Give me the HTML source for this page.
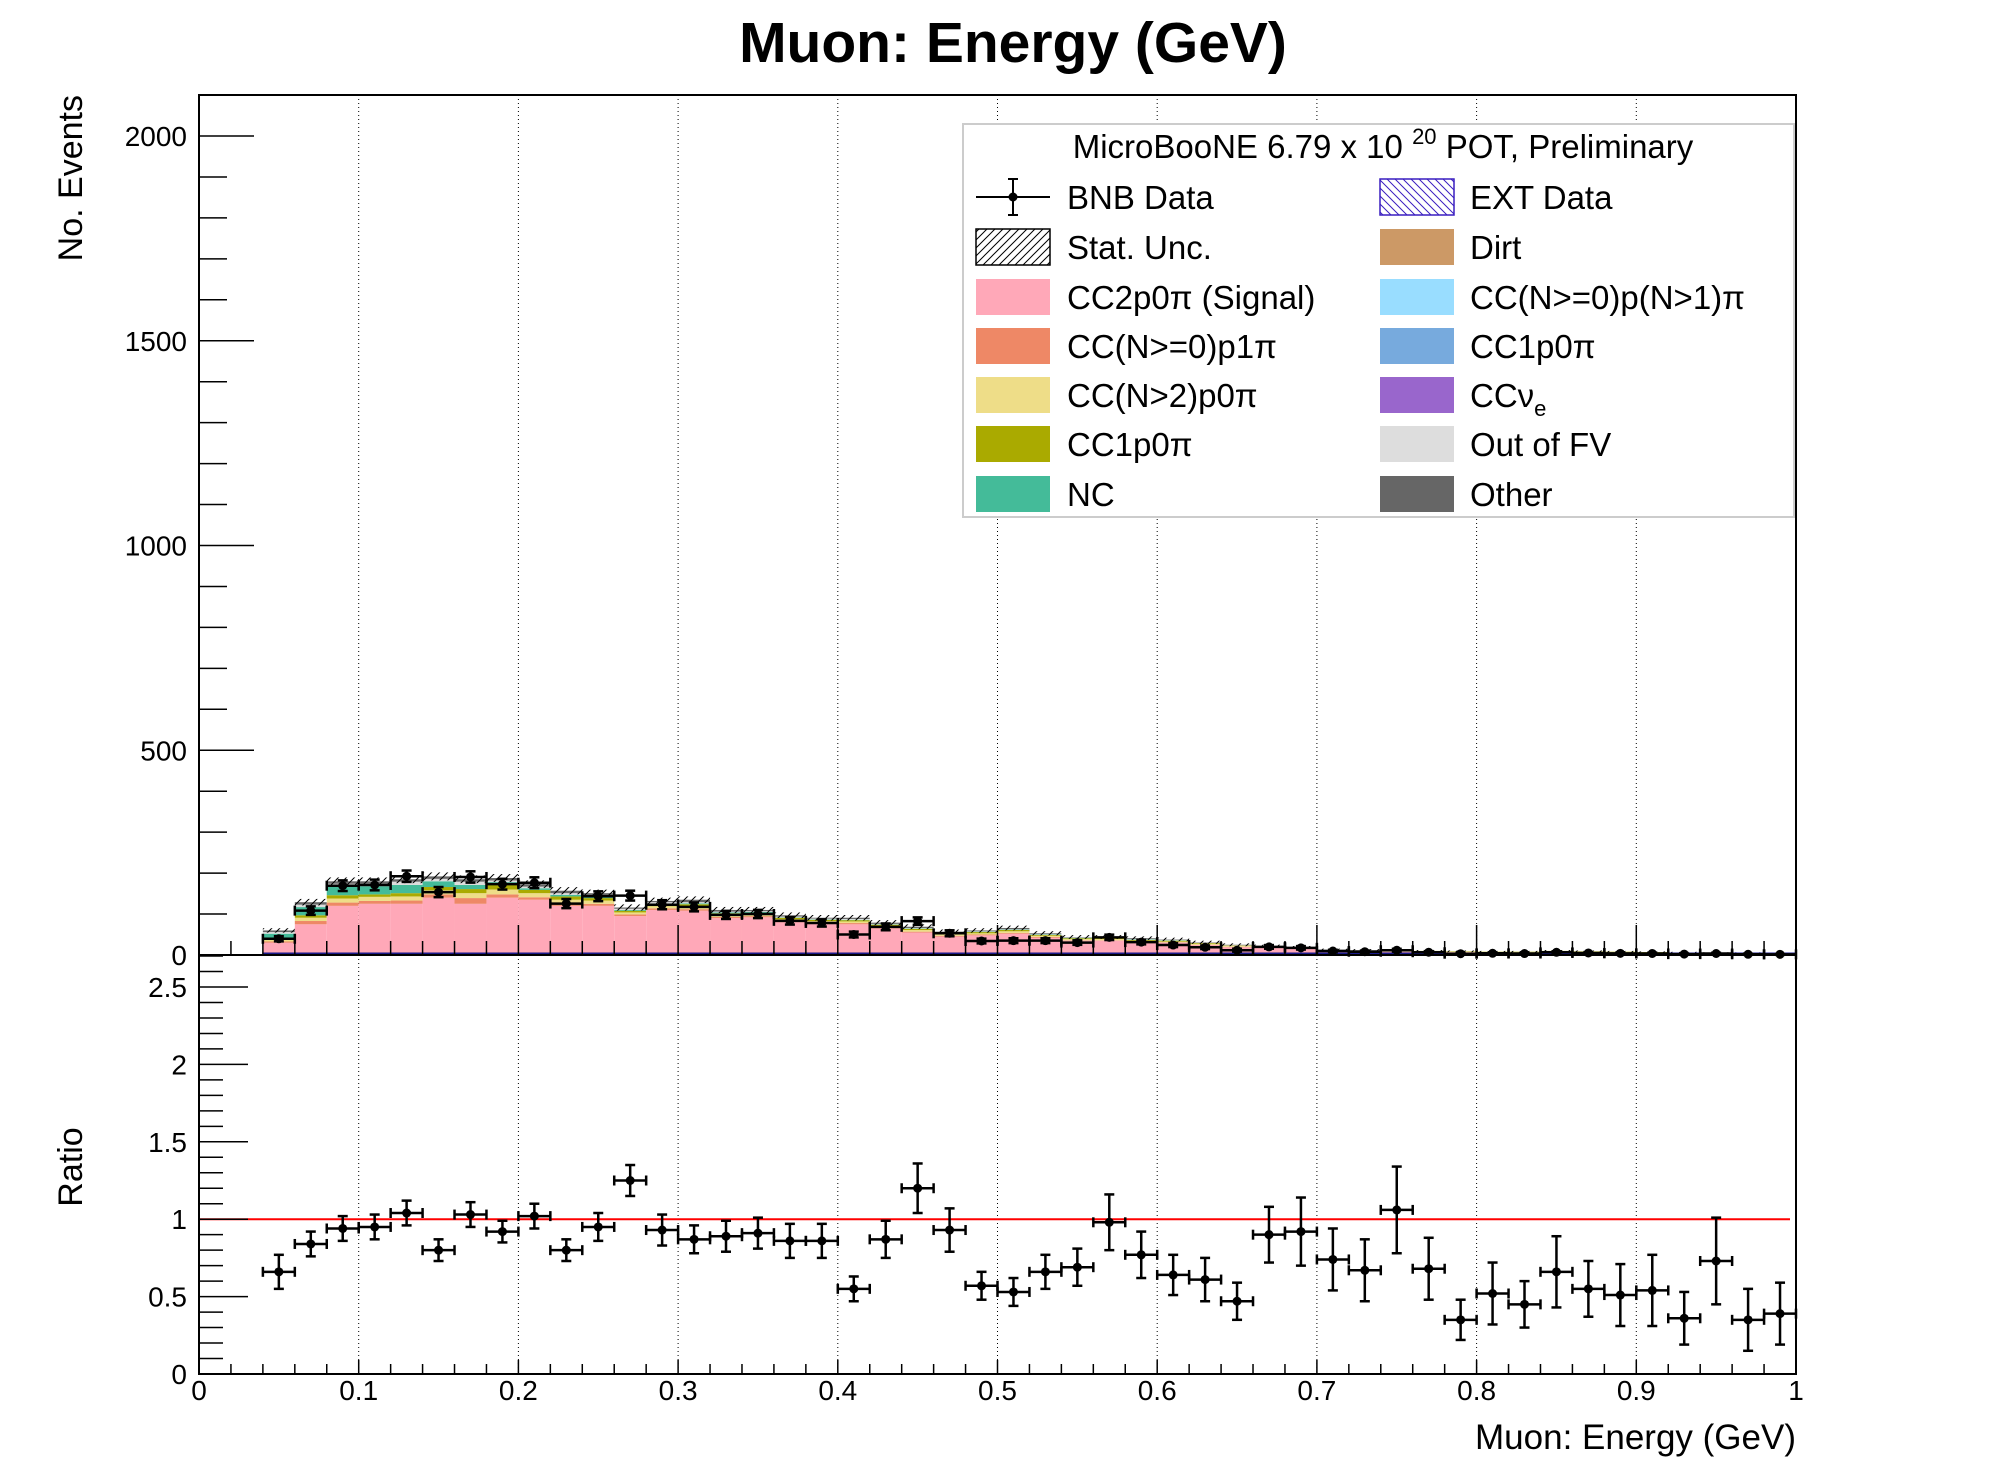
<!DOCTYPE html>
<html><head><meta charset="utf-8"><style>
html,body{margin:0;padding:0;background:#fff;}
svg{display:block;font-family:"Liberation Sans",sans-serif;}
</style></head><body>
<svg id="chart" width="1996" height="1472" viewBox="0 0 1996 1472" xmlns="http://www.w3.org/2000/svg">
<defs>
<pattern id="hatch" patternUnits="userSpaceOnUse" width="8" height="8">
<path d="M0,8 L8,0 M-2,2 L2,-2 M6,10 L10,6" stroke="#000" stroke-width="1"/></pattern>
<pattern id="hatchExt" patternUnits="userSpaceOnUse" width="8" height="8">
<path d="M0,0 L8,8 M-2,6 L2,10 M6,-2 L10,2" stroke="#3a1ec0" stroke-width="1"/></pattern>
</defs>
<rect x="0" y="0" width="1996" height="1472" fill="#fff"/>
<text x="1013" y="62" font-size="57" font-weight="bold" text-anchor="middle">Muon: Energy (GeV)</text>
<g id="main"></g>
<g id="ratio"></g>
<g id="legend"></g>
<text transform="translate(82,95) rotate(-90)" font-size="34" text-anchor="end">No. Events</text>
<text transform="translate(82,1167) rotate(-90)" font-size="34" text-anchor="middle">Ratio</text>
<text x="1796" y="1449" font-size="35" text-anchor="end">Muon: Energy (GeV)</text>
</svg>
<script>
const binLow = [0.04,0.06,0.08,0.10,0.12,0.14,0.16,0.18,0.20,0.22,0.24,0.26,0.28,0.30,0.32,0.34,0.36,0.38,0.40,0.42,0.44,0.46,0.48,0.50,0.52,0.54,0.56,0.58,0.60,0.62,0.64,0.66,0.68,0.70,0.72,0.74,0.76,0.78,0.80,0.82,0.84,0.86,0.88,0.90,0.92,0.94,0.96,0.98];
const signal = [30,75,120,125,125,140,125,140,135,120,120,95,110,108,90,92,80,78,75,65,55,45,48,52,42,35,35,32,30,24,19,17,15,10,9,8,8,7,6,6,8,7,6,5,4,4,4,3];
const p1pi   = [3,8,8,7,8,8,14,8,6,6,5,4,4,4,3,3,3,2,3,2,2,2,2,2,2,1,1,1,1,1,1,1,1,0,0,0,0,0,0,0,0,0,0,0,0,0,0,0];
const n2p0pi = [4,8,10,10,10,10,12,12,10,9,8,5,5,6,5,4,4,3,4,4,4,3,3,4,3,3,3,2,2,2,2,2,1,1,1,1,1,1,1,1,1,1,1,1,1,1,1,1];
const cc1p0piOlive = [3,6,8,6,8,8,10,12,8,8,6,4,5,6,4,4,4,3,3,3,3,3,3,3,2,2,2,2,2,2,1,1,1,1,1,1,1,1,1,1,1,1,1,1,1,0,0,0];
const nc     = [12,20,22,20,20,14,10,6,4,4,3,2,2,2,2,2,1,1,1,1,1,1,1,1,1,1,1,1,1,0,0,0,0,0,0,0,0,0,0,0,0,0,0,0,0,0,0,0];
const outFV  = [4,6,6,6,8,6,8,4,4,4,4,3,3,3,2,2,2,2,2,1,1,1,1,1,1,1,1,1,1,1,1,0,0,0,0,0,0,0,0,0,0,0,0,0,0,0,0,0];
const other  = [4,6,6,6,6,6,6,6,6,6,5,3,3,6,4,3,3,2,3,3,3,2,2,3,2,1,1,2,1,1,1,1,1,1,1,1,0,0,0,0,0,0,0,0,0,0,0,0];
const ratio  = [0.66,0.84,0.94,0.95,1.04,0.80,1.03,0.92,1.02,0.80,0.95,1.25,0.93,0.87,0.89,0.91,0.86,0.86,0.55,0.87,1.20,0.93,0.57,0.53,0.66,0.69,0.98,0.77,0.64,0.61,0.47,0.90,0.92,0.74,0.67,1.06,0.68,0.35,0.52,0.45,0.66,0.55,0.51,0.54,0.36,0.73,0.35,0.39];
const ratioErr = [0.11,0.08,0.08,0.08,0.08,0.07,0.08,0.07,0.08,0.07,0.09,0.10,0.10,0.09,0.10,0.10,0.11,0.11,0.08,0.12,0.16,0.14,0.09,0.09,0.11,0.12,0.18,0.15,0.13,0.14,0.12,0.18,0.22,0.20,0.20,0.28,0.20,0.13,0.20,0.15,0.23,0.18,0.20,0.23,0.17,0.28,0.20,0.20];
const yTicksMain = [0,500,1000,1500,2000];
const yTicksRatio = [0,0.5,1,1.5,2,2.5];
const xTicks = [0,0.1,0.2,0.3,0.4,0.5,0.6,0.7,0.8,0.9,1];
const xTickLabels = ["0","0.1","0.2","0.3","0.4","0.5","0.6","0.7","0.8","0.9","1"];

const NS = "http://www.w3.org/2000/svg";
const X0 = 199, X1 = 1796, MT = 95, MB = 955, RB = 1374;
const BW = 0.02;
const xs = v => X0 + v * (X1 - X0);
const ym = v => MB - v * (MB - 136) / 2000;
const yr = v => RB - v * (RB - 987) / 2.5;
function mk(parent, tag, attrs) {
  const e = document.createElementNS(NS, tag);
  for (const k in attrs) e.setAttribute(k, attrs[k]);
  parent.appendChild(e);
  return e;
}
const gM = document.getElementById('main');
const gR = document.getElementById('ratio');
const gL = document.getElementById('legend');

for (const t of xTicks) {
  if (t === 0 || t === 1) continue;
  const g = mk(gM, 'line', {x1: xs(t), x2: xs(t), y1: MT, y2: RB, stroke: '#000', 'stroke-width': 1, 'stroke-dasharray': '1,3'});
  
  
}

const comps = [
  {arr: signal, col: '#ffa8b8', name: 'signal'},
  {arr: p1pi, col: '#ee8866', name: 'p1pi'},
  {arr: n2p0pi, col: '#eedd88', name: 'n2p0pi'},
  {arr: cc1p0piOlive, col: '#aaaa00', name: 'cc1p0pi'},
  {arr: nc, col: '#44bb99', name: 'nc'},
  {arr: outFV, col: '#dddddd', name: 'out-of-fv'},
  {arr: other, col: '#666666', name: 'other'}
];
const totals = binLow.map((b, i) => comps.reduce((s, c) => s + c.arr[i], 0));
binLow.forEach((b, i) => {
  let acc = 0;
  for (const c of comps) {
    const v = c.arr[i];
    if (v > 0) {
      const r = mk(gM, 'rect', {x: xs(b), width: xs(b + BW) - xs(b), y: ym(acc + v), height: ym(acc) - ym(acc + v), fill: c.col});
      
      
    }
    acc += v;
  }
  const e = Math.sqrt(totals[i]) * 0.7;
  const h = mk(gM, 'rect', {x: xs(b), width: xs(b + BW) - xs(b), y: ym(totals[i] + e), height: ym(totals[i] - e) - ym(totals[i] + e), fill: 'url(#hatch)'});
  
  
});
const zl = mk(gM, 'line', {x1: xs(0.04), x2: X1, y1: MB - 1, y2: MB - 1, stroke: '#1a1a8a', 'stroke-width': 3});



function point(g, cx, cy, x0, x1, ylo, yhi, nm) {
  const grp = mk(g, 'g', {stroke: '#000', 'stroke-width': 2.5});
  
  
  mk(grp, 'line', {x1: x0, x2: x1, y1: cy, y2: cy});
  mk(grp, 'line', {x1: cx, x2: cx, y1: ylo, y2: yhi});
  mk(grp, 'line', {x1: cx - 5, x2: cx + 5, y1: ylo, y2: ylo});
  mk(grp, 'line', {x1: cx - 5, x2: cx + 5, y1: yhi, y2: yhi});
  mk(grp, 'line', {x1: x0, x2: x0, y1: cy - 5, y2: cy + 5});
  mk(grp, 'line', {x1: x1, x2: x1, y1: cy - 5, y2: cy + 5});
  mk(grp, 'circle', {cx: cx, cy: cy, r: 4.5, fill: '#000', stroke: 'none'});
}
binLow.forEach((b, i) => {
  const d = ratio[i] * totals[i];
  const e = Math.sqrt(d);
  point(gM, xs(b + BW / 2), ym(d), xs(b), xs(b + BW), ym(d - e), ym(d + e), 'bnb-data-point');
});
const rl = mk(gR, 'line', {x1: X0, x2: 1790, y1: yr(1), y2: yr(1), stroke: '#ff0000', 'stroke-width': 2});


binLow.forEach((b, i) => {
  point(gR, xs(b + BW / 2), yr(ratio[i]), xs(b), xs(b + BW), yr(ratio[i] - ratioErr[i]), yr(ratio[i] + ratioErr[i]), 'ratio-point');
});

const f1 = mk(gM, 'rect', {x: X0, y: MT, width: X1 - X0, height: MB - MT, fill: 'none', stroke: '#000', 'stroke-width': 2});


const f2 = mk(gR, 'rect', {x: X0, y: MB, width: X1 - X0, height: RB - MB, fill: 'none', stroke: '#000', 'stroke-width': 2});



for (let v = 0; v <= 2100; v += 100) {
  const major = v % 500 === 0;
  mk(gM, 'line', {x1: X0, x2: X0 + (major ? 55 : 28), y1: ym(v), y2: ym(v), stroke: '#000', 'stroke-width': 1.5});
}
for (const t of yTicksMain) {
  const tl = mk(gM, 'text', {x: 187, y: ym(t) + 10, 'font-size': 28, 'text-anchor': 'end'});
  tl.textContent = String(t);
  
  
}
for (let k = 0; k <= 27; k++) {
  const v = k / 10;
  const major = k % 5 === 0;
  mk(gR, 'line', {x1: X0, x2: X0 + (major ? 49 : 24), y1: yr(v), y2: yr(v), stroke: '#000', 'stroke-width': 1.5});
}
for (const t of yTicksRatio) {
  const tl = mk(gR, 'text', {x: 187, y: yr(t) + 10, 'font-size': 28, 'text-anchor': 'end'});
  tl.textContent = String(t);
  
  
}
for (let k = 0; k <= 50; k++) {
  const v = k / 50;
  const major = k % 5 === 0;
  mk(gM, 'line', {x1: xs(v), x2: xs(v), y1: MB, y2: MB - (major ? 30 : 14), stroke: '#000', 'stroke-width': 1.5});
  mk(gR, 'line', {x1: xs(v), x2: xs(v), y1: RB, y2: RB - (major ? 14 : 10), stroke: '#000', 'stroke-width': 1.5});
}
xTicks.forEach((t, i) => {
  const tl = mk(gR, 'text', {x: xs(t), y: 1400, 'font-size': 28, 'text-anchor': 'middle'});
  tl.textContent = xTickLabels[i];
  
  
});

const lb = mk(gL, 'rect', {x: 963, y: 124, width: 831, height: 393, fill: '#fff', stroke: '#cccccc', 'stroke-width': 2});


const lt = mk(gL, 'text', {x: 1383, y: 158, 'font-size': 33, 'text-anchor': 'middle'});


lt.innerHTML = 'MicroBooNE 6.79 x 10 <tspan dy="-14" font-size="22">20</tspan><tspan dy="14"> POT, Preliminary</tspan>';
const rows = [197, 247, 297, 346, 395, 444, 494];
const entries = [
  ['BNB Data', 'data', 0, 0], ['EXT Data', 'url(#hatchExt)', 1, 0],
  ['Stat. Unc.', 'url(#hatch)', 0, 1], ['Dirt', '#cc9966', 1, 1],
  ['CC2p0\u03c0 (Signal)', '#ffa8b8', 0, 2], ['CC(N>=0)p(N>1)\u03c0', '#99ddff', 1, 2],
  ['CC(N>=0)p1\u03c0', '#ee8866', 0, 3], ['CC1p0\u03c0', '#77aadd', 1, 3],
  ['CC(N>2)p0\u03c0', '#eedd88', 0, 4], ['CC\u03bd', '#9966cc', 1, 4],
  ['CC1p0\u03c0', '#aaaa00', 0, 5], ['Out of FV', '#dddddd', 1, 5],
  ['NC', '#44bb99', 0, 6], ['Other', '#666666', 1, 6]
];
for (const [label, fill, col, row] of entries) {
  const sx = col ? 1380 : 976, tx = col ? 1470 : 1067, cy = rows[row];
  const g = mk(gL, 'g', {});
  
  
  if (fill === 'data') {
    mk(g, 'line', {x1: sx, x2: sx + 74, y1: cy, y2: cy, stroke: '#000', 'stroke-width': 2});
    mk(g, 'line', {x1: sx + 37, x2: sx + 37, y1: cy - 18, y2: cy + 18, stroke: '#000', 'stroke-width': 2});
    mk(g, 'line', {x1: sx + 32, x2: sx + 42, y1: cy - 18, y2: cy - 18, stroke: '#000', 'stroke-width': 2});
    mk(g, 'line', {x1: sx + 32, x2: sx + 42, y1: cy + 18, y2: cy + 18, stroke: '#000', 'stroke-width': 2});
    mk(g, 'circle', {cx: sx + 37, cy: cy, r: 4.5, fill: '#000'});
  } else {
    const isH = fill.startsWith('url');
    mk(g, 'rect', {x: sx, y: cy - 18, width: 74, height: 36, fill: fill, stroke: isH ? (fill.includes('Ext') ? '#3a1ec0' : '#000') : 'none', 'stroke-width': 1.5});
  }
  const t = mk(g, 'text', {x: tx, y: cy + 12, 'font-size': 33});
  t.textContent = label;
  if (label === 'CC\u03bd') {
    const s = mk(t, 'tspan', {dy: 9, 'font-size': 22});
    s.textContent = 'e';
  }
}
</script>
</body></html>
